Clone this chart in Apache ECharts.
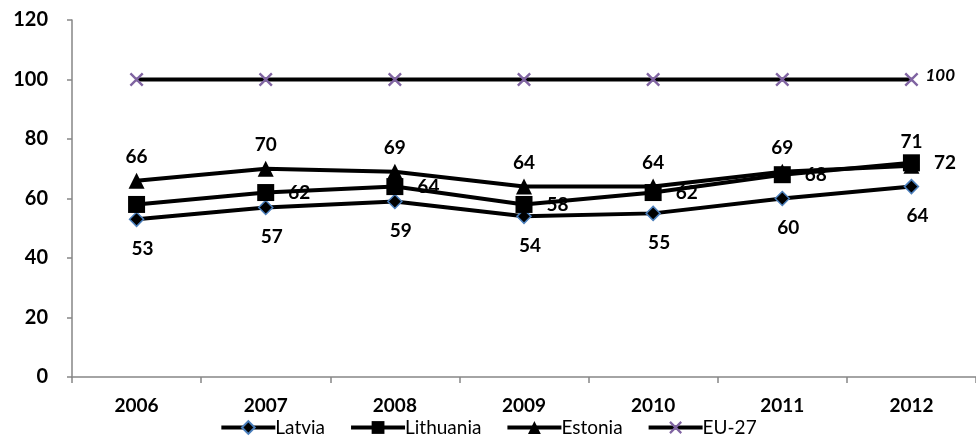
<!DOCTYPE html>
<html><head><meta charset="utf-8">
<script src="https://cdn.jsdelivr.net/npm/echarts@6/dist/echarts.min.js"></script>
<style>html,body{margin:0;padding:0;background:#fff}#c{width:976px;height:439px}</style>
</head><body><div id="c"></div>
<script>
const years = ['2006','2007','2008','2009','2010','2011','2012'];
const latvia = [53, 57, 59, 54, 55, 60, 64];
const lithuania = [58, 62, 64, 58, 62, 68, 72];
const estonia = [66, 70, 69, 64, 64, 69, 71];
const eu27 = [100, 100, 100, 100, 100, 100, 100];
const yTicks = {min: 0, max: 120, interval: 20};

const FONT = 'Lato';
const xPath = 'path://M0,1.2L1.2,0L10,8.8L8.8,10Z M8.8,0L10,1.2L1.2,10L0,8.8Z';
const lbl = {show: true, color: '#000', fontFamily: FONT, fontWeight: 'bold', fontSize: 19};

const chart = echarts.init(document.getElementById('c'));
chart.setOption({
  animation: false,
  grid: {left: 72, right: -2, top: 20, bottom: 62},
  legend: {
    bottom: -3, left: 'center', itemWidth: 54, itemHeight: 16, itemGap: 24,
    lineStyle: {width: 4, color: '#000'},
    textStyle: {fontFamily: FONT, fontSize: 19, color: '#000', padding: [0,0,0,-5]},
    data: ['Latvia','Lithuania','Estonia','EU-27']
  },
  xAxis: {
    type: 'category', data: years, boundaryGap: true,
    axisLine: {lineStyle: {color: '#868686', width: 1.5}},
    axisTick: {show: true, length: 6, inside: false, lineStyle: {color: '#868686', width: 1.5}},
    axisLabel: {fontFamily: FONT, fontWeight: 'bold', fontSize: 19, color: '#000', margin: 19}
  },
  yAxis: {
    type: 'value', min: yTicks.min, max: yTicks.max, interval: yTicks.interval,
    splitLine: {show: false},
    axisLine: {show: true, lineStyle: {color: '#868686', width: 1.5}},
    axisTick: {show: true, length: 5, lineStyle: {color: '#868686', width: 1.5}},
    axisLabel: {fontFamily: FONT, fontWeight: 'bold', fontSize: 20, color: '#000', margin: 24}
  },
  series: [
    {name: 'Latvia', type: 'line', data: latvia, symbol: 'diamond', symbolSize: 14,
     lineStyle: {color: '#000', width: 4}, itemStyle: {color: '#000', borderColor: '#4a7ebb', borderWidth: 1.5},
     label: Object.assign({}, lbl, {position: 'bottom', distance: 12, offset: [6, 0]}), z: 3},
    {name: 'Lithuania', type: 'line', data: lithuania, symbol: 'rect', symbolSize: 17,
     lineStyle: {color: '#000', width: 4}, itemStyle: {color: '#000'},
     label: Object.assign({}, lbl, {position: 'right', distance: 14,
       formatter: p => p.dataIndex === 0 ? '' : p.value}), z: 4},
    {name: 'Lithuania', type: 'line', data: lithuania.map((v,i)=> i===0 ? v : '-'), symbol: 'none',
     lineStyle: {width: 0}, label: Object.assign({}, lbl, {position: 'left', distance: 10}),
     showSymbol: false, silent: true, legendHoverLink: false, tooltip: {show: false},
     emphasis: {disabled: true}, z: 4},
    {name: 'Estonia', type: 'line', data: estonia, symbol: 'triangle', symbolSize: 16,
     lineStyle: {color: '#000', width: 4}, itemStyle: {color: '#000'},
     label: Object.assign({}, lbl, {position: 'top', distance: 6}), z: 5},
    {name: 'EU-27', type: 'line', data: eu27, symbol: xPath, symbolSize: 14,
     lineStyle: {color: '#000', width: 4}, itemStyle: {color: '#8064a2'},
     label: Object.assign({}, lbl, {position: 'right', distance: 7, fontStyle: 'italic', fontSize: 17, offset: [0,-4],
       formatter: p => p.dataIndex === eu27.length - 1 ? p.value : ''}), z: 2}
  ]
});
</script></body></html>
